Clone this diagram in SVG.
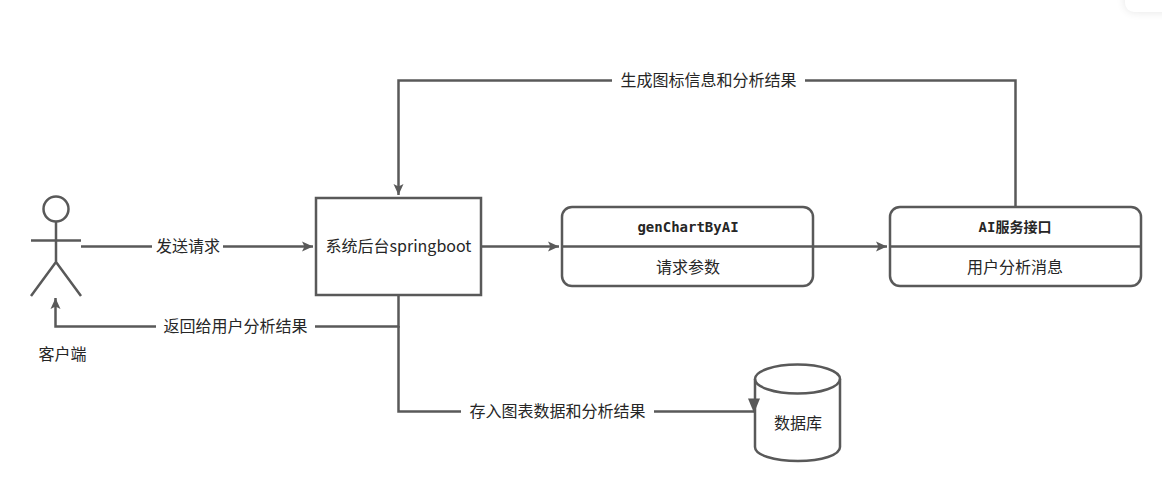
<svg xmlns="http://www.w3.org/2000/svg" width="1162" height="491" viewBox="0 0 1162 491">
<style>
.s{fill:none;stroke:#595959;stroke-width:2.5}
.n{fill:#fff;stroke:#595959;stroke-width:2.5}
.a{fill:#595959;stroke:none}
text{font-family:"Noto Sans CJK SC","Liberation Sans",sans-serif;font-size:16px;fill:#262626;text-anchor:middle}
.m{font-family:"DejaVu Sans Mono","Noto Sans CJK SC",monospace;font-size:14px;font-weight:bold}
.l{fill:#fff;stroke:none}
</style>
<defs>
<filter id="sh" x="-30%" y="-100%" width="160%" height="300%"><feGaussianBlur stdDeviation="5"/></filter>
<marker id="ar" markerUnits="userSpaceOnUse" markerWidth="12" markerHeight="12" refX="11" refY="6" orient="auto"><path d="M0 1 L11 6 L0 11 L2.5 6Z" fill="#595959"/></marker>
</defs>
<rect width="1162" height="491" fill="#fff"/>
<rect x="1125" y="-20" width="60" height="32" rx="9" fill="#000" opacity="0.1" filter="url(#sh)"/>
<rect x="1125" y="-20" width="60" height="32" rx="9" fill="#fff"/>
<g id="connectors">
<path class="s" d="M81 246.500H313" marker-end="url(#ar)"/>
<path class="s" d="M481 246.500H559" marker-end="url(#ar)"/>
<path class="s" d="M813 246.500H887" marker-end="url(#ar)"/>
<path class="s" d="M1015.500 206V80.500H398.500V195" marker-end="url(#ar)"/>
<path class="s" d="M398.500 296V326.500H55.500V298" marker-end="url(#ar)"/>
<path class="s" d="M398.500 326V411.500H754"/>
<path class="a" d="M748 398.500L760 398.500L754 413Z"/>
</g>
<g id="edge-labels">
<rect class="l" x="152" y="236" width="71" height="21"/><text x="188" y="252">发送请求</text>
<rect class="l" x="156" y="316" width="159" height="21"/><text x="235.500" y="332">返回给用户分析结果</text>
<rect class="l" x="612" y="70" width="193" height="21"/><text x="708.500" y="86">生成图标信息和分析结果</text>
<rect class="l" x="461" y="401" width="193" height="21"/><text x="557.500" y="417">存入图表数据和分析结果</text>
</g>
<g id="actor" class="s">
<circle cx="56" cy="209" r="12.500"/>
<path d="M56 222V262M31 240.500H81M56 262L31 296M56 262L81 296"/>
</g>
<text x="62.500" y="360">客户端</text>
<g id="backend">
<rect class="n" x="316" y="198" width="165" height="97"/>
<text x="398.500" y="252">系统后台springboot</text>
</g>
<g id="genChart">
<rect class="n" x="562" y="207" width="251" height="79" rx="10"/>
<path class="s" d="M562 246.500H813"/>
<text class="m" x="688" y="232">genChartByAI</text>
<text x="688" y="273">请求参数</text>
</g>
<g id="aiService">
<rect class="n" x="890" y="207" width="251" height="79" rx="10"/>
<path class="s" d="M890 246.500H1141"/>
<text class="m" x="1015" y="232">AI服务接口</text>
<text x="1015" y="273">用户分析消息</text>
</g>
<g id="database">
<path class="s" d="M755 379V447C755 455 774 461 798 461C822 461 840 455 840 447V379"/>
<ellipse class="s" cx="797.500" cy="379" rx="42.500" ry="14.500"/>
<text x="798" y="429">数据库</text>
</g>
</svg>
